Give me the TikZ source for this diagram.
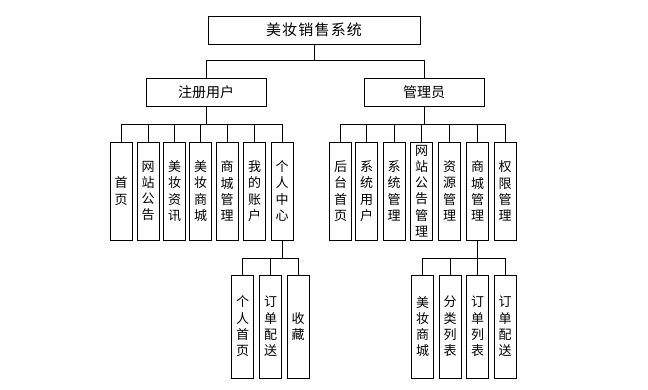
\documentclass[tikz,border=0pt]{standalone}
\usepackage{fontspec}
\setmainfont{Noto Sans CJK SC}
\usetikzlibrary{positioning}
\tikzset{
    topbox/.style={draw, line width=1pt, inner sep=0pt, minimum height=28, font=\fontsize{14}{16}\selectfont},
    leafbox/.style={draw, line width=1pt, inner sep=0pt, minimum width=22, minimum height=98, align=center, font=\fontsize{13}{16.3}\selectfont},
    link/.style={line width=0.8pt}
}

\begin{document}
\begin{tikzpicture}[x=1pt, y=-1pt]
    \useasboundingbox (0,0) rectangle (648,389);

    % --- upper levels ---
    \node[topbox, minimum width=212, font=\fontsize{15}{16}\addfontfeature{LetterSpace=8}\selectfont] (root) at (314,30) {美妆销售系统};
    \node[topbox, minimum width=120] (user) at (206,92) {注册用户};
    \node[topbox, minimum width=120] (admin) at (424,92) {管理员};

    \coordinate (bar0) at (0,60);
    \coordinate (bar1) at (0,124);
    \coordinate (bar2) at (0,258);

    \draw[link] (root.south) -- (root.south |- bar0) -| (user.north);
    \draw[link] (root.south) -- (root.south |- bar0) -| (admin.north);

    % --- registered user ---
    \foreach \x/\n/\t in {121/u1/{首\\页}, 148/u2/{网\\站\\公\\告}, 174.5/u3/{美\\妆\\资\\讯},
        200.5/u4/{美\\妆\\商\\城}, 227/u5/{商\\城\\管\\理}, 254.5/u6/{我\\的\\账\\户}, 282/u7/{个\\人\\中\\心}}{
        \node[leafbox] (\n) at (\x,191) {\t};
        \draw[link] (user.south) -- (user.south |- bar1) -| (\n.north);
    }

    % --- administrator ---
    \foreach \x/\n/\t in {340.5/a1/{后\\台\\首\\页}, 366.5/a2/{系\\统\\用\\户}, 394/a3/{系\\统\\管\\理},
        421.5/a4/{网\\站\\公\\告\\管\\理}, 449.5/a5/{资\\源\\管\\理}, 477.5/a6/{商\\城\\管\\理}, 505/a7/{权\\限\\管\\理}}{
        \node[leafbox] (\n) at (\x,191) {\t};
        \draw[link] (admin.south) -- (admin.south |- bar1) -| (\n.north);
    }

    % --- personal center ---
    \foreach \x/\n/\t in {242.5/p1/{个\\人\\首\\页}, 270.5/p2/{订\\单\\配\\送}, 298/p3/{收\\藏}}{
        \node[leafbox, minimum height=103] (\n) at (\x,326.5) {\t};
        \draw[link] (u7.south) -- (u7.south |- bar2) -| (\n.north);
    }

    % --- shop management ---
    \foreach \x/\n/\t in {422.5/s1/{美\\妆\\商\\城}, 450/s2/{分\\类\\列\\表}, 477.5/s3/{订\\单\\列\\表}, 505/s4/{订\\单\\配\\送}}{
        \node[leafbox, minimum height=103] (\n) at (\x,326.5) {\t};
        \draw[link] (a6.south) -- (a6.south |- bar2) -| (\n.north);
    }
\end{tikzpicture}
\end{document}
